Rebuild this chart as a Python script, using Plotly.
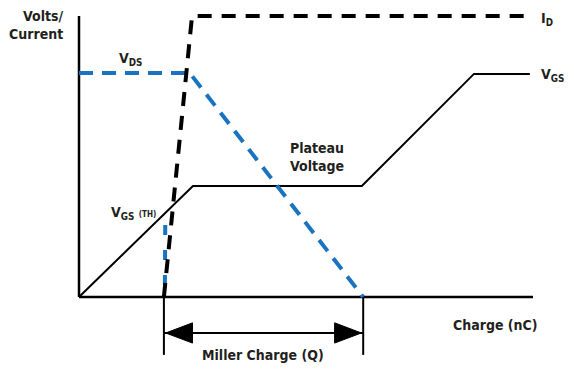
import plotly.graph_objects as go

# ---- data (normalized charge 0..100, volts/current 0..100) ----
id_charge = [18.7, 24.9, 99.8]
id_level = [0, 100, 100]

vds_charge = [0, 24.4, 62.6]
vds_level = [79.7, 79.7, 0]
vds_rise_charge = [19.0, 18.9]
vds_rise_level = [25.6, 0]

vgs_charge = [0, 25.1, 62.3, 87.0, 99.3]
vgs_level = [0, 39.5, 39.5, 79.4, 79.4]

miller_start = 18.7
miller_end = 62.6
axis_max = 100

# page body has an 8px margin; figure sized so it fills the 574x369 window
OFF = 8
W, H = 574 - OFF, 369 - OFF
ox, oy = 79 - OFF, 297 - OFF   # pixel of origin within figure
sx, sy = 4.54, 2.81            # pixels per data unit

BLUE = "#1a73c0"
FONT = "Liberation Sans Narrow, Arial Narrow, DejaVu Sans Condensed, sans-serif"

fig = go.Figure()

def line(x, y, color="black", width=2, dash=None):
    fig.add_trace(go.Scatter(x=x, y=y, mode="lines", hoverinfo="skip",
                             line=dict(color=color, width=width, dash=dash)))

# axes
line([0, axis_max], [0, 0], width=2.5)
line([0, 0], [0, axis_max], width=2.5)

# V_GS
line(vgs_charge, vgs_level, width=2)
# V_DS
line(vds_rise_charge, vds_rise_level, color=BLUE, width=4, dash="10px,15px")
line(vds_charge, vds_level, color=BLUE, width=4, dash="14px,9px")
# I_D
line(id_charge, id_level, color="black", width=4, dash="14px,10px")

# Miller charge dimension
drop = -20.6
shaft = -12.8
line([miller_start, miller_start], [0, drop], width=2)
line([miller_end, miller_end], [0, drop], width=2)
line([miller_start, miller_end], [shaft, shaft], width=2)
hl, hh = 5.9, 3.6
fig.add_trace(go.Scatter(
    x=[miller_start + 0.4, miller_start + 0.4 + hl, miller_start + 0.4 + hl, miller_start + 0.4],
    y=[shaft, shaft + hh, shaft - hh, shaft], mode="lines", fill="toself",
    fillcolor="black", line=dict(color="black", width=1), hoverinfo="skip"))
fig.add_trace(go.Scatter(
    x=[miller_end - 0.4, miller_end - 0.4 - hl, miller_end - 0.4 - hl, miller_end - 0.4],
    y=[shaft, shaft + hh, shaft - hh, shaft], mode="lines", fill="toself",
    fillcolor="black", line=dict(color="black", width=1), hoverinfo="skip"))

def label(text, px, py, anchor="left", size=14, align="left"):
    fig.add_annotation(text=text, x=(px - OFF) / W, y=1 - (py - OFF) / H,
                       xref="paper", yref="paper",
                       xanchor=anchor, yanchor="middle", showarrow=False, align=align,
                       font=dict(family=FONT, size=size, color="#231f20"))

label("<b>Volts/<br>Current</b>", 66, 25, anchor="right", align="right")
label("<b>V<sub>DS</sub></b>", 117, 59)
label("<b>I<sub>D</sub></b>", 539, 19)
label("<b>V<sub>GS</sub></b>", 539, 75)
label("<b>Plateau<br>Voltage</b>", 288, 157)
label("<b>V<sub>GS</sub> <span style='font-size:8px'>(TH)</span></b>", 109, 213)
label("<b>Charge (nC)</b>", 451, 325)
label("<b>Miller Charge (Q)</b>", 200, 355)

fig.update_layout(
    width=W, height=H, showlegend=False,
    margin=dict(l=0, r=0, t=0, b=0),
    paper_bgcolor="white", plot_bgcolor="white",
    xaxis=dict(range=[-ox / sx, (W - ox) / sx], visible=False, fixedrange=True),
    yaxis=dict(range=[(oy - H) / sy, oy / sy], visible=False, fixedrange=True),
)

fig.write_html("out.html")
